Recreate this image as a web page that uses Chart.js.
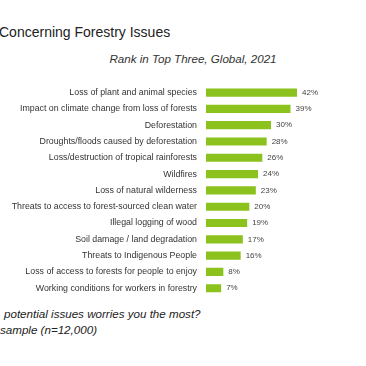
<!DOCTYPE html>
<html>
<head>
<meta charset="utf-8">
<script src="https://cdn.jsdelivr.net/npm/chart.js@4"></script>
<style>
  html, body { margin: 0; padding: 0; background: #fff; }
  body { width: 366px; height: 366px; position: relative; overflow: hidden; font-family: "Liberation Sans", Arial, sans-serif; }
  .txt { position: absolute; white-space: nowrap; line-height: 1; color: #222; }
  #title { left: -1px; top: 25px; font-size: 14px; }
  #subtitle { left: 0; width: 386px; text-align: center; top: 53px; font-size: 11.6px; font-style: italic; color: #333; }
  #q1 { left: 4px; top: 308px; font-size: 11.6px; font-style: italic; }
  #q2 { left: 0; top: 324px; font-size: 11.6px; font-style: italic; }
  #wrap { position: absolute; left: 0; top: 78.6px; width: 366px; height: 222.8px; }
</style>
</head>
<body>
<div class="txt" id="title">Concerning Forestry Issues</div>
<div class="txt" id="subtitle">Rank in Top Three, Global, 2021</div>
<div id="wrap"><canvas id="chart"></canvas></div>
<div class="txt" id="q1">potential issues worries you the most?</div>
<div class="txt" id="q2">sample (n=12,000)</div>
<script>
const issues = [
    'Loss of plant and animal species',
    'Impact on climate change from loss of forests',
    'Deforestation',
    'Droughts/floods caused by deforestation',
    'Loss/destruction of tropical rainforests',
    'Wildfires',
    'Loss of natural wilderness',
    'Threats to access to forest-sourced clean water',
    'Illegal logging of wood',
    'Soil damage / land degradation',
    'Threats to Indigenous People',
    'Loss of access to forests for people to enjoy',
    'Working conditions for workers in forestry'
];
const shares = [42, 39, 30, 28, 26, 24, 23, 20, 19, 17, 16, 8, 7];

const valueLabels = {
    id: 'valueLabels',
    afterDatasetsDraw(chart) {
        const ctx = chart.ctx;
        const meta = chart.getDatasetMeta(0);
        ctx.save();
        ctx.font = '8px "Liberation Sans", Arial, sans-serif';
        ctx.fillStyle = '#444';
        ctx.textBaseline = 'middle';
        ctx.textAlign = 'left';
        meta.data.forEach((bar, i) => {
            ctx.fillText(shares[i] + '%', bar.x + 5, bar.y);
        });
        ctx.restore();
    }
};

new Chart(document.getElementById('chart').getContext('2d'), {
    type: 'bar',
    data: {
        labels: issues,
        datasets: [{
            data: shares,
            backgroundColor: '#8cc21e',
            borderWidth: 0,
            categoryPercentage: 1,
            barPercentage: 0.5
        }]
    },
    options: {
        indexAxis: 'y',
        responsive: true,
        maintainAspectRatio: false,
        animation: false,
        layout: { padding: { left: 0, right: 30, top: 0, bottom: 0 } },
        plugins: {
            legend: { display: false },
            tooltip: { enabled: false }
        },
        scales: {
            x: {
                display: false,
                min: 0,
                max: 60
            },
            y: {
                grid: { display: false },
                border: { display: false },
                ticks: {
                    padding: 1,
                    color: '#333',
                    font: { size: 8.8, lineHeight: 1, family: '"Liberation Sans", Arial, sans-serif' }
                },
                afterFit(scale) { scale.width = 206; }
            }
        }
    },
    plugins: [valueLabels]
});
</script>
</body>
</html>
